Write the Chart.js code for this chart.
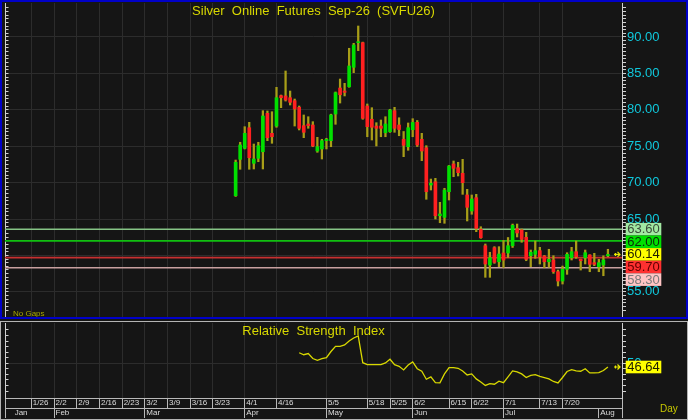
<!DOCTYPE html>
<html><head><meta charset="utf-8">
<script src="https://cdn.jsdelivr.net/npm/chart.js@4.4.1/dist/chart.umd.min.js"></script>
<style>
html,body{margin:0;padding:0;background:#151515;width:688px;height:420px;overflow:hidden;}
#top{position:absolute;left:0;top:0;width:688px;height:319px;box-sizing:border-box;border:2px solid #0000c8;background:#151515;}
#bot{position:absolute;left:0;top:321px;width:688px;height:99px;box-sizing:border-box;border:1px solid #b4b4b4;background:#151515;}
canvas{display:block;}
</style></head><body>
<div id="top"><canvas id="c1" width="684" height="315"></canvas></div>
<div id="bot"><canvas id="c2" width="686" height="97"></canvas></div>
<script>
// ---- axis categories (session positions) ----
const weekLabels   = ['1/26','2/2','2/9','2/16','2/23','3/2','3/9','3/16','3/23','4/1','4/16','5/5','5/18','5/25','6/2','6/15','6/22','7/1','7/13','7/20'];
const weekSessions = [4,9,14,19,24,29,34,39,44,51,58,69,78,83,88,96,101,108,116,121];
const monthLabels   = ['Jan','Feb','Mar','Apr','May','Jun','Jul','Aug'];
const monthSessions = [0,9,29,51,69,88,108,129];
const firstSession = 49;

// ---- daily OHLC ----
const open  = [68.20,73.20,74.71,77.54,72.65,73.34,74.24,79.52,76.77,77.77,81.94,81.90,81.66,81.25,80.34,77.82,78.05,77.91,74.34,74.62,75.76,75.76,79.42,82.99,82.58,83.17,85.84,89.22,89.22,80.52,78.70,77.77,77.77,76.85,76.99,79.88,77.91,75.95,74.93,77.27,78.28,75.95,74.79,69.67,70.12,65.45,65.23,68.75,72.56,72.05,71.28,68.30,66.10,67.93,63.59,61.33,58.68,61.06,59.13,60.33,60.33,61.33,63.67,63.49,62.49,59.96,60.15,60.65,59.92,59.13,59.37,57.76,56.48,58.09,59.68,60.51,59.46,59.68,60.06,59.00,58.45,58.68,59.96];
const high  = [73.10,75.54,77.68,78.28,75.30,75.54,79.88,79.84,79.74,83.09,82.03,85.33,82.58,81.48,80.52,79.29,79.05,78.37,76.22,75.95,76.09,79.40,82.45,84.23,83.64,88.45,89.13,91.51,89.30,80.80,80.29,78.23,78.60,79.05,80.07,80.34,78.91,77.02,78.19,78.78,78.53,76.77,75.07,70.49,70.59,67.29,69.22,72.35,72.97,72.79,73.20,69.08,68.30,68.39,63.94,61.57,60.43,61.20,61.20,62.05,62.46,64.31,64.31,63.63,63.17,60.74,61.98,61.11,60.00,60.84,59.96,57.99,58.54,60.37,61.11,61.98,59.50,60.74,60.10,60.29,59.46,59.95,60.84];
const low   = [68.10,71.83,74.62,71.83,71.87,72.87,71.87,75.76,75.40,77.60,80.29,81.20,80.66,77.77,77.23,76.17,77.46,74.93,74.16,73.24,74.62,74.93,78.01,80.93,81.90,83.10,85.10,88.12,78.70,76.30,75.85,75.03,76.30,76.30,76.90,76.91,76.44,73.56,74.44,76.30,74.96,73.01,67.71,68.98,65.00,64.49,64.41,67.61,70.81,70.91,68.39,64.73,65.65,63.26,62.35,56.99,56.99,58.91,58.45,58.34,59.71,61.09,62.53,61.80,59.27,58.45,59.60,58.82,58.31,58.37,57.54,55.80,56.07,57.40,59.37,59.60,57.99,58.82,57.76,58.59,57.76,57.21,59.82];
const close = [72.79,75.17,76.77,73.42,73.24,75.07,79.15,76.17,76.30,81.66,81.66,81.35,81.03,80.11,77.46,76.91,77.82,75.03,74.93,75.76,75.95,79.29,82.35,82.07,82.40,86.02,88.90,89.35,78.83,77.68,77.60,77.46,77.46,78.05,79.97,77.46,77.29,75.12,77.54,78.26,75.17,74.34,68.75,69.90,65.45,65.69,68.98,72.28,71.96,71.36,69.99,66.61,67.75,63.72,62.43,58.82,59.68,59.05,60.19,59.37,61.33,64.13,63.08,62.21,59.46,60.43,60.65,59.82,59.13,59.46,57.76,56.48,58.09,60.15,60.51,59.82,59.27,60.37,58.78,58.78,59.00,59.37,60.14];

// ---- RSI (14) ----
const rsi = [null,null,null,null,null,null,null,null,null,null,null,null,null,null,
 59.5,57.7,58.8,54.3,52.7,54.1,55.0,60.6,65.3,65.3,66.5,70.1,72.8,74.6,50.5,48.7,48.7,48.7,48.7,50.3,53.6,48.7,47.3,44.0,48.5,51.2,45.1,42.8,35.6,37.7,32.5,32.3,40.4,46.0,46.0,45.5,43.1,39.5,40.4,35.9,33.2,30.0,31.6,31.1,33.8,32.5,37.7,43.1,42.2,40.4,37.2,39.0,39.7,38.1,37.0,35.9,33.6,32.3,37.2,42.6,44.2,43.1,42.8,45.1,41.3,41.3,41.5,43.5,46.64];

// ---- horizontal levels ----
const levelValues = [63.60, 62.00, 59.70, 58.30];
const levelLabels = ['63.60','62.00','59.70','58.30'];

// ---- styles ----
const FONT = "'Liberation Sans', Arial, Helvetica, sans-serif";
Chart.defaults.font.family = FONT;
const X_MIN = -1.8, X_MAX = 134.1;
const UP = '#00e000', DOWN = '#ff2020', WICK = '#a89e18';
const GRID = '#2c2c2c', AXIS = '#d0d0d0', CYAN = '#10c8dc', YEL = '#d8d800', SEP = '#b8b8b8', LBL = '#dcdcdc';
const levelStyles = [
  {line:'#86c486', bg:'#a2e8a2', fg:'#3a4a3a'},
  {line:'#10c010', bg:'#00e000', fg:'#0a2a0a'},
  {line:'#c83030', bg:'#ff3030', fg:'#600000'},
  {line:'#c8a0a0', bg:'#ffc4c4', fg:'#7a7a7a'}
];
const isMult = (v, m) => Math.abs(v / m - Math.round(v / m)) < 1e-6;

const xs = close.map((_, i) => firstSession + i);
const bodyData = xs.map((x, i) => ({x, y: [open[i], close[i]]}));
const wickData = xs.map((x, i) => ({x, y: [low[i], high[i]]}));
const rsiData = xs.map((x, i) => ({x, y: rsi[i]}));

function drawBox(ctx, x, top, w, h, bg, fg, text) {
  ctx.fillStyle = bg;
  ctx.fillRect(x, top, w, h);
  ctx.fillStyle = fg;
  ctx.font = '13px ' + FONT;
  ctx.textAlign = 'left';
  ctx.textBaseline = 'middle';
  ctx.fillText(text, x + 1.5, top + h / 2 + 0.5);
}
function drawArrow(ctx, xr, y) {
  ctx.strokeStyle = '#e8e800';
  ctx.lineWidth = 1.2;
  ctx.beginPath();
  ctx.moveTo(xr - 6, y); ctx.lineTo(xr, y);
  ctx.moveTo(xr - 2.5, y - 2.5); ctx.lineTo(xr, y); ctx.lineTo(xr - 2.5, y + 2.5);
  ctx.moveTo(xr - 4.5, y - 1.5); ctx.lineTo(xr - 4.5, y + 1.5);
  ctx.stroke();
}

const decor1 = {
  id: 'decor1',
  afterDraw(chart) {
    const {ctx, chartArea: a, scales} = chart;
    const y = scales.y;
    ctx.save();
    ctx.fillStyle = YEL;
    ctx.font = '13px ' + FONT;
    ctx.textAlign = 'center';
    ctx.textBaseline = 'middle';
    ctx.fillText('Silver  Online  Futures  Sep-26  (SVFU26)', (a.left + a.right) / 2, 9);
    ctx.fillStyle = '#a8a800';
    ctx.font = '8px ' + FONT;
    ctx.textAlign = 'left';
    ctx.fillText('No Gaps', 11, a.bottom - 3.5);
    // level + last-price boxes
    const last = close[close.length - 1];
    const items = levelValues.map((v, k) => ({v, text: levelLabels[k], bg: levelStyles[k].bg, fg: levelStyles[k].fg}));
    items.push({v: last, text: last.toFixed(2), bg: '#ffff00', fg: '#202000', last: true});
    items.sort((p, q) => q.v - p.v);
    const h = 12.6, bx = a.right + 3.7, bw = 35.6;
    let prev = -1e9;
    items.forEach(it => {
      const py = y.getPixelForValue(it.v);
      const top = Math.max(py - h / 2, prev);
      drawBox(ctx, bx, top, bw, h, it.bg, it.fg, it.text);
      prev = top + h;
      if (it.last) drawArrow(ctx, a.right - 2, py);
    });
    ctx.restore();
  }
};

const decor2 = {
  id: 'decor2',
  afterDraw(chart) {
    const {ctx, chartArea: a, scales} = chart;
    ctx.save();
    ctx.fillStyle = YEL;
    ctx.font = '13px ' + FONT;
    ctx.textAlign = 'center';
    ctx.textBaseline = 'middle';
    ctx.fillText('Relative  Strength  Index', (a.left + a.right) / 2, 9);
    const lastR = rsi[rsi.length - 1];
    const py = scales.y.getPixelForValue(lastR);
    drawBox(ctx, a.right + 3.7, py - 6.3, 35.6, 12.6, '#ffff00', '#202000', lastR.toFixed(2));
    drawArrow(ctx, a.right - 2, py);
    ctx.fillStyle = '#c8c800';
    ctx.font = '10px ' + FONT;
    ctx.textAlign = 'left';
    ctx.textBaseline = 'middle';
    ctx.fillText('Day', 659, 87);
    ctx.restore();
  }
};

new Chart(document.getElementById('c1'), {
  type: 'bar',
  data: {
    datasets: [
      {type: 'bar', data: bodyData, xAxisID: 'x', yAxisID: 'y', grouped: false, order: 0,
       backgroundColor: c => close[c.dataIndex] >= open[c.dataIndex] ? UP : DOWN,
       barThickness: 3, minBarLength: 1, borderWidth: 0},
      {type: 'bar', data: wickData, xAxisID: 'x', yAxisID: 'y', grouped: false, order: 1,
       backgroundColor: WICK, barThickness: 1.6, borderWidth: 0},
      ...levelValues.map((v, k) => ({type: 'line', xAxisID: 'x', yAxisID: 'y', order: 2,
        data: [{x: X_MIN, y: v}, {x: X_MAX, y: v}], borderColor: levelStyles[k].line,
        borderWidth: 1.6, pointRadius: 0, fill: false}))
    ]
  },
  options: {
    responsive: false, animation: false, devicePixelRatio: 1, events: [],
    layout: {padding: {top: 1, bottom: 0, left: 0, right: 0}},
    plugins: {legend: {display: false}, tooltip: {enabled: false}},
    scales: {
      x: {type: 'linear', position: 'bottom', min: X_MIN, max: X_MAX, offset: false,
          afterBuildTicks: s => { s.ticks = weekSessions.map(v => ({value: v})); },
          ticks: {display: false, autoSkip: false},
          grid: {color: GRID, drawTicks: false, offset: false},
          border: {display: false},
          afterFit: s => { s.height = 0; s.paddingLeft = 0; s.paddingRight = 0; }},
      y: {type: 'linear', position: 'right', min: 51.54, max: 94.67,
          ticks: {stepSize: 0.5, autoSkip: false, maxTicksLimit: 1000, color: CYAN, padding: 1,
                  font: {size: 13}, callback: v => isMult(v, 5) ? v.toFixed(2) : ''},
          grid: {color: c => (c.tick && isMult(c.tick.value, 5)) ? GRID : 'transparent',
                 tickColor: c => (c.tick && isMult(c.tick.value, 0.5)) ? AXIS : 'transparent', tickLength: 4},
          border: {color: AXIS},
          afterFit: s => { s.width = 64; s.paddingTop = 0; s.paddingBottom = 0; }},
      yl: {type: 'linear', position: 'left', min: 51.54, max: 94.67,
          ticks: {display: false, stepSize: 0.5, autoSkip: false, maxTicksLimit: 1000},
          grid: {drawOnChartArea: false, tickLength: -3.5,
                 tickColor: c => (c.tick && isMult(c.tick.value, 0.5)) ? AXIS : 'transparent'},
          border: {color: AXIS},
          afterFit: s => { s.width = 3; s.paddingTop = 0; s.paddingBottom = 0; }}
    }
  },
  plugins: [decor1]
});

new Chart(document.getElementById('c2'), {
  type: 'line',
  data: {
    datasets: [{data: rsiData, xAxisID: 'xw', yAxisID: 'y', borderColor: YEL, borderWidth: 1.3,
                pointRadius: 0, fill: false, tension: 0}]
  },
  options: {
    responsive: false, animation: false, devicePixelRatio: 1, events: [],
    layout: {padding: {top: 1, bottom: 1, left: 0, right: 0}},
    plugins: {legend: {display: false}, tooltip: {enabled: false}},
    scales: {
      xw: {type: 'linear', axis: 'x', position: 'bottom', weight: 0, min: X_MIN, max: X_MAX, offset: false,
           afterBuildTicks: s => { s.ticks = [X_MIN, ...weekSessions, X_MAX].map(v => ({value: v})); },
           ticks: {autoSkip: false, maxRotation: 0, align: 'start', labelOffset: 1.5, padding: -9.8,
                   color: LBL, font: {size: 8},
                   callback: v => { const k = weekSessions.indexOf(v); return k >= 0 ? weekLabels[k] : ''; }},
           grid: {offset: false, tickLength: 10, tickColor: SEP,
                  color: c => (c.tick && weekSessions.includes(c.tick.value)) ? GRID : 'transparent'},
           border: {color: SEP},
           afterFit: s => { s.height = 10; s.paddingLeft = 0; s.paddingRight = 0; }},
      xm: {type: 'linear', axis: 'x', position: 'bottom', weight: 1, min: X_MIN, max: X_MAX, offset: false,
           afterBuildTicks: s => { s.ticks = [X_MIN, ...monthSessions, X_MAX].map(v => ({value: v})); },
           ticks: {autoSkip: false, maxRotation: 0, align: 'start', labelOffset: 1.5, padding: -9.8,
                   color: LBL, font: {size: 8},
                   callback: v => { const k = monthSessions.indexOf(v); return k >= 0 ? monthLabels[k] : ''; }},
           grid: {drawOnChartArea: false, offset: false, tickLength: 10,
                  tickColor: c => (c.tick && c.tick.value === monthSessions[0]) ? 'transparent' : SEP},
           border: {color: SEP},
           afterFit: s => { s.height = 10; s.paddingLeft = 0; s.paddingRight = 0; }},
      y: {type: 'linear', position: 'right', min: 18.7, max: 86.3,
          ticks: {stepSize: 5, autoSkip: false, maxTicksLimit: 1000, color: CYAN, padding: 1,
                  font: {size: 13}, callback: v => isMult(v - 50, 100) ? '50' : ''},
          grid: {color: c => (c.tick && Math.abs(c.tick.value - 50) < 1e-6) ? GRID : 'transparent',
                 tickColor: c => (c.tick && isMult(c.tick.value, 5)) ? AXIS : 'transparent', tickLength: 4},
          border: {color: AXIS},
          afterFit: s => { s.width = 65; s.paddingTop = 0; s.paddingBottom = 0; }},
      yl: {type: 'linear', position: 'left', min: 18.7, max: 86.3,
          ticks: {display: false, stepSize: 5, autoSkip: false, maxTicksLimit: 1000},
          grid: {drawOnChartArea: false, tickLength: -3.5,
                 tickColor: c => (c.tick && isMult(c.tick.value, 5)) ? AXIS : 'transparent'},
          border: {color: AXIS},
          afterFit: s => { s.width = 4; s.paddingTop = 0; s.paddingBottom = 0; }}
    }
  },
  plugins: [decor2]
});
</script>
</body></html>
